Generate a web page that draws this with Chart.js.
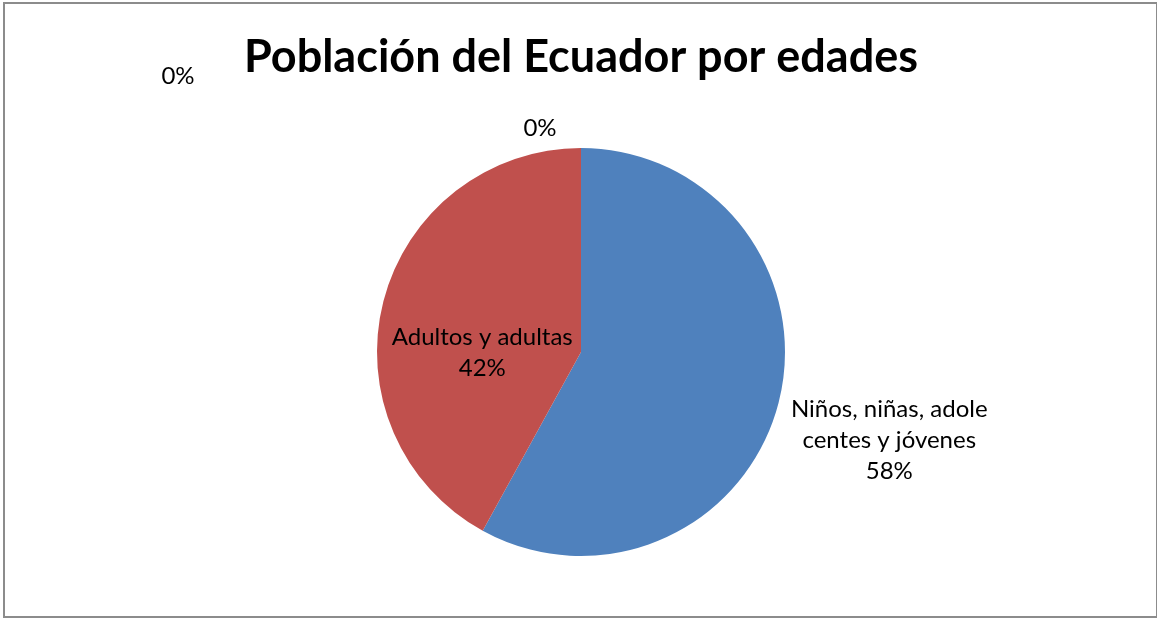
<!DOCTYPE html>
<html lang="es">
<head>
<meta charset="UTF-8">
<title>Población del Ecuador por edades</title>
<script src="https://cdn.jsdelivr.net/npm/chart.js"></script>
<style>
    html, body { margin: 0; padding: 0; background: #fff; }
    .frame {
        position: absolute;
        left: 3px; top: 2px;
        width: 1151px; height: 612px;
        border: 2px solid #8c8c8c;
        border-right-width: 1px;
    }
    #wrap { position: absolute; left: 0; top: 0; width: 1159px; height: 619px; }
</style>
</head>
<body>
<div class="frame"></div>
<div id="wrap"><canvas id="pieChart"></canvas></div>

<script>
// datos
const categorias = ['Niños, niñas, adolescentes y jóvenes', 'Adultos y adultas', 'Adultos mayores', 'Otros'];
const porcentajes = [58, 42, 0, 0];
const colores = ['#4F81BD', '#C0504D', '#9BBB59', '#8064A2'];

// lineas de las etiquetas tal como aparecen en el grafico
const etiquetas = [
    ['Niños, niñas, adole', 'centes y jóvenes'],
    ['Adultos y adultas'],
    [],
    []
];

// donde va cada etiqueta: k = distancia en radios sobre el angulo medio, dx/dy extra
const ubicacion = [
    { k: 1.55, dx: 2, dy: 10 },
    { k: 0.52, dx: 4, dy: 27 },
    { k: 1.10, dx: -41, dy: 1 },
    { k: 1.10, dx: -403, dy: -51 }
];

const fuente = "'Lato', 'Open Sans', sans-serif";

const etiquetasPlugin = {
    id: 'etiquetas',
    afterDatasetsDraw(chart) {
        const ctx = chart.ctx;
        const meta = chart.getDatasetMeta(0);
        const total = porcentajes.reduce((a, b) => a + b, 0);
        ctx.save();
        ctx.font = '24px ' + fuente;
        ctx.fillStyle = '#000';
        ctx.textAlign = 'center';
        ctx.textBaseline = 'middle';
        meta.data.forEach((arc, i) => {
            const p = arc.getProps(['x', 'y', 'startAngle', 'endAngle', 'outerRadius'], true);
            const mid = (p.startAngle + p.endAngle) / 2;
            const u = ubicacion[i];
            const cx = p.x + Math.cos(mid) * p.outerRadius * u.k + u.dx;
            const cy = p.y + Math.sin(mid) * p.outerRadius * u.k + u.dy;
            const lineas = etiquetas[i].concat([Math.round(porcentajes[i] / total * 100) + '%']);
            const alto = 31;
            const y0 = cy - (lineas.length - 1) * alto / 2;
            lineas.forEach((t, j) => ctx.fillText(t, cx, y0 + j * alto));
        });
        ctx.restore();
    }
};

new Chart(document.getElementById('pieChart'), {
    type: 'pie',
    data: {
        labels: categorias,
        datasets: [{
            data: porcentajes,
            backgroundColor: colores,
            borderWidth: 0
        }]
    },
    options: {
        responsive: true,
        maintainAspectRatio: false,
        animation: false,
        layout: { padding: { left: 3, right: 0, top: 0, bottom: 63 } },
        plugins: {
            legend: { display: false },
            tooltip: { enabled: false },
            title: {
                display: true,
                text: 'Población del Ecuador por edades',
                color: '#000',
                font: { family: fuente, size: 45, weight: 'bold', lineHeight: 1.2 },
                padding: { top: 30, bottom: 64 }
            }
        }
    },
    plugins: [etiquetasPlugin]
});
</script>
</body>
</html>
